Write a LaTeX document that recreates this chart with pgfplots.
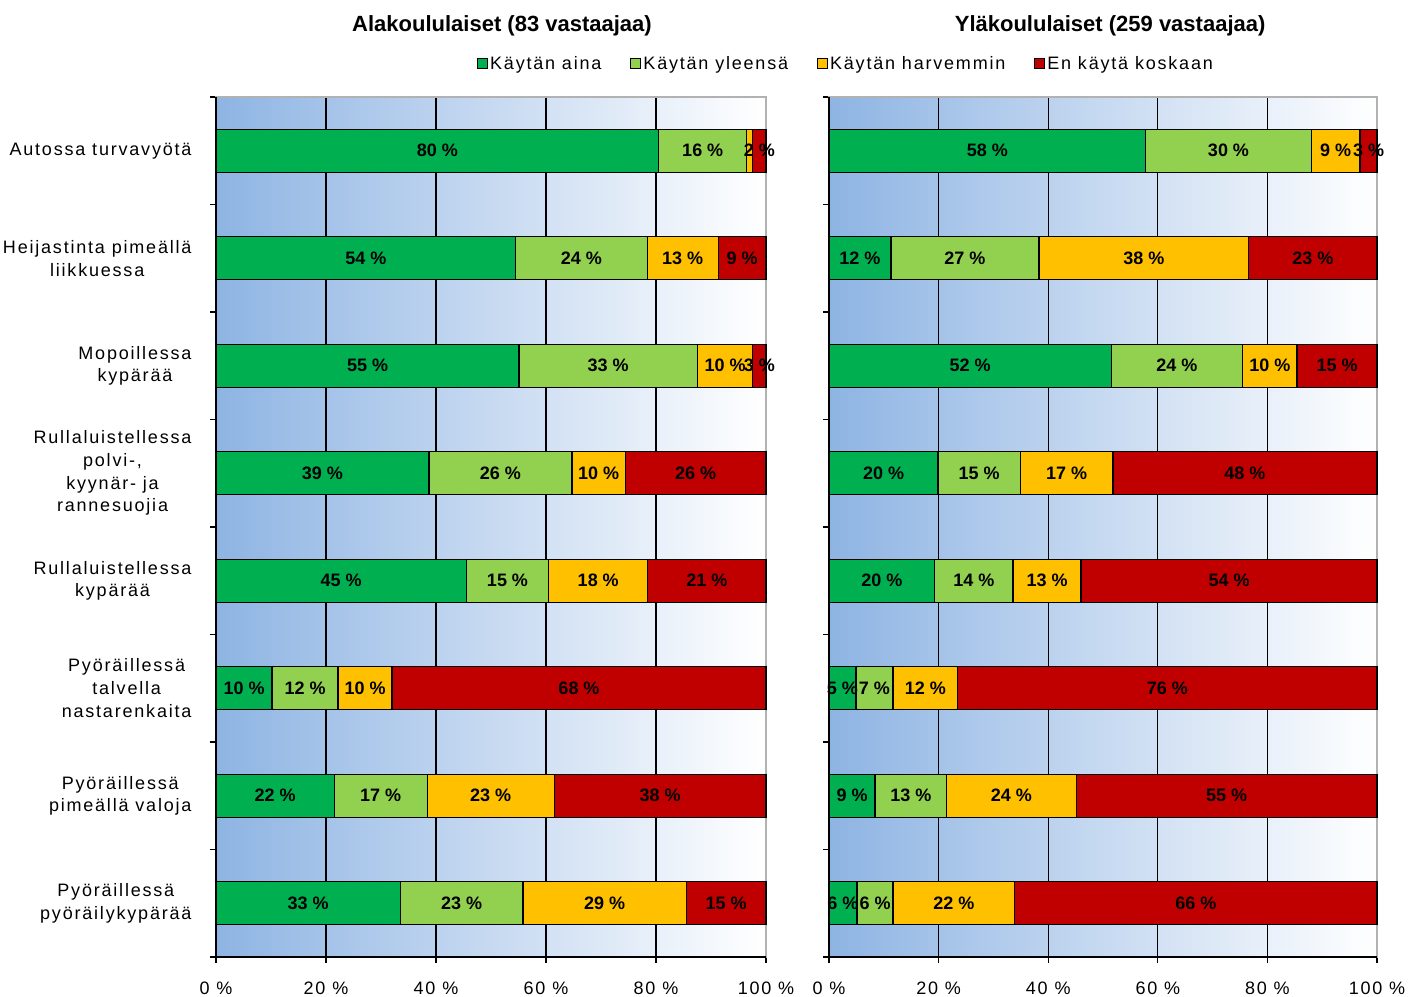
\documentclass[border=0pt]{standalone}
\usepackage{pgfplots}
\pgfplotsset{compat=1.18}
\usepackage{pgfplotstable}
\usepackage{fontspec}
\setmainfont{Liberation Sans}[LetterSpace=10]
\newfontfamily\lblfont{Liberation Sans}
\definecolor{cA}{HTML}{00B050}
\definecolor{cB}{HTML}{92D050}
\definecolor{cC}{HTML}{FFC000}
\definecolor{cD}{HTML}{C00000}
\definecolor{bgl}{RGB}{142,180,227}

\pgfplotstableread{
y a b c d la lb lc ld
0 80.5 16.0 1.1 2.4 {80 \%} {16 \%} {} {2 \%}
1 54.5 23.9 12.9 8.7 {54 \%} {24 \%} {13 \%} {9 \%}
2 55.1 32.4 10.1 2.4 {55 \%} {33 \%} {10 \%} {3 \%}
3 38.7 26.0 9.7 25.6 {39 \%} {26 \%} {10 \%} {26 \%}
4 45.5 15.0 18.0 21.5 {45 \%} {15 \%} {18 \%} {21 \%}
5 10.2 12.0 9.8 68.0 {10 \%} {12 \%} {10 \%} {68 \%}
6 21.5 16.9 23.1 38.5 {22 \%} {17 \%} {23 \%} {38 \%}
7 33.5 22.3 29.7 14.5 {33 \%} {23 \%} {29 \%} {15 \%}
}\lowtab

\pgfplotstableread{
y a b c d la lb lc ld
0 57.8 30.2 8.9 3.1 {58 \%} {30 \%} {9 \%} {3 \%}
1 11.3 27.0 38.3 23.4 {12 \%} {27 \%} {38 \%} {23 \%}
2 51.5 24.0 9.9 14.6 {52 \%} {24 \%} {10 \%} {15 \%}
3 19.9 15.0 16.9 48.2 {20 \%} {15 \%} {17 \%} {48 \%}
4 19.3 14.3 12.4 54.0 {20 \%} {14 \%} {13 \%} {54 \%}
5 4.9 6.8 11.8 76.5 {5 \%} {7 \%} {12 \%} {76 \%}
6 8.4 13.1 23.6 54.9 {9 \%} {13 \%} {24 \%} {55 \%}
7 5.1 6.6 22.2 66.1 {6 \%} {6 \%} {22 \%} {66 \%}
}\uptab

\pgfplotsset{
  panel/.style={
    xbar stacked, scale only axis, width=#1, height=860pt,
    clip=false,
    xmin=0, xmax=100, ymin=-0.5, ymax=7.5, y dir=reverse,
    bar width=43pt,
    axis background/.style={left color=bgl, right color=white},
    axis line style={draw=gray!60, line width=1.2pt},
    xtick={0,20,...,100},
    xticklabels={0 \%,20 \%,40 \%,60 \%,80 \%,100 \%},
    ytick={-0.5,0.5,...,7.5}, yticklabels={},
    tick pos=left, tick align=outside, major tick length=6pt,
    tick style={black, line width=1.3pt},
    xmajorgrids, grid style={black, line width=1.2pt},
    ticklabel style={font=\fontsize{18}{22.7}\selectfont},
    xticklabel style={yshift=-15pt},
    yticklabel style={align=center, xshift=-21pt},
    after end axis/.code={\draw[black, line width=1.8pt] (axis cs:0,-0.5) -- (axis cs:0,7.5) -- (axis cs:100,7.5);},
  },
  labels/.style={scale only axis, width=#1, height=860pt, clip=false, hide axis,
    xmin=0, xmax=100, ymin=-0.5, ymax=7.5, y dir=reverse},
  seg/.style={draw=black, line width=1.3pt, fill=#1},
  lab/.style={only marks, mark=*, mark size=0pt, mark options={draw=none, fill=none},
    nodes near coords, point meta=explicit symbolic,
    nodes near coords align={center},
    every node near coord/.append style={anchor=center, inner sep=0pt, text=black,
      font=\lblfont\bfseries\fontsize{18}{20}\selectfont}},
  every axis title/.style={anchor=center, font=\lblfont\bfseries\fontsize{22}{25}\selectfont},
}

\begin{document}
\begin{tikzpicture}
\begin{axis}[panel=550pt, at={(216pt,39pt)}, anchor=south west,
  extra y ticks={0,...,7},
  extra y tick style={major tick length=0pt},
  extra y tick labels={Autossa turvavyötä, {Heijastinta pimeällä\\liikkuessa}, {Mopoillessa\\kypärää}, {Rullaluistellessa\\polvi-,\\kyynär- ja\\rannesuojia}, {Rullaluistellessa\\kypärää}, {Pyöräillessä\\talvella\\nastarenkaita}, {Pyöräillessä\\pimeällä valoja}, {Pyöräillessä\\pyöräilykypärää}},
  title={Alakoululaiset (83 vastaajaa)},
  title style={at={(0.52,1.0826)}},
  legend image code/.code={\draw[#1, draw=black, line width=1pt] (0pt,-5pt) rectangle (10pt,5pt);},
  legend columns=4,
  legend style={at={(1.1455,1.0384)}, anchor=center, draw=none, fill=none,
    font=\fontsize{18}{20}\selectfont, inner sep=0pt,
    nodes={inner sep=2pt},
    /tikz/every even column/.append style={column sep=27pt}},
]
\addplot[seg=cA] table[x=a, y=y] {\lowtab};
\addlegendentry{Käytän aina}
\addplot[seg=cB] table[x=b, y=y] {\lowtab};
\addlegendentry{Käytän yleensä}
\addplot[seg=cC] table[x=c, y=y] {\lowtab};
\addlegendentry{Käytän harvemmin}
\addplot[seg=cD] table[x=d, y=y] {\lowtab};
\addlegendentry{En käytä koskaan}
\end{axis}
\begin{axis}[labels=550pt, at={(216pt,39pt)}, anchor=south west]
\addplot[lab] table[x expr=\thisrow{a}/2, y=y, meta=la] {\lowtab};
\addplot[lab] table[x expr=\thisrow{a}+\thisrow{b}/2, y=y, meta=lb] {\lowtab};
\addplot[lab] table[x expr=\thisrow{a}+\thisrow{b}+\thisrow{c}/2, y=y, meta=lc] {\lowtab};
\addplot[lab] table[x expr=\thisrow{a}+\thisrow{b}+\thisrow{c}+\thisrow{d}/2, y=y, meta=ld] {\lowtab};
\end{axis}

\begin{axis}[panel=548pt, at={(829pt,39pt)}, anchor=south west,
  title={Yläkoululaiset (259 vastaajaa)},
  title style={at={(0.513,1.0826)}},
]
\addplot[seg=cA] table[x=a, y=y] {\uptab};
\addplot[seg=cB] table[x=b, y=y] {\uptab};
\addplot[seg=cC] table[x=c, y=y] {\uptab};
\addplot[seg=cD] table[x=d, y=y] {\uptab};
\end{axis}
\begin{axis}[labels=548pt, at={(829pt,39pt)}, anchor=south west]
\addplot[lab] table[x expr=\thisrow{a}/2, y=y, meta=la] {\uptab};
\addplot[lab] table[x expr=\thisrow{a}+\thisrow{b}/2, y=y, meta=lb] {\uptab};
\addplot[lab] table[x expr=\thisrow{a}+\thisrow{b}+\thisrow{c}/2, y=y, meta=lc] {\uptab};
\addplot[lab] table[x expr=\thisrow{a}+\thisrow{b}+\thisrow{c}+\thisrow{d}/2, y=y, meta=ld] {\uptab};
\end{axis}
\pgfresetboundingbox
\useasboundingbox (0,0) rectangle (1423pt,996pt);
\end{tikzpicture}
\end{document}
